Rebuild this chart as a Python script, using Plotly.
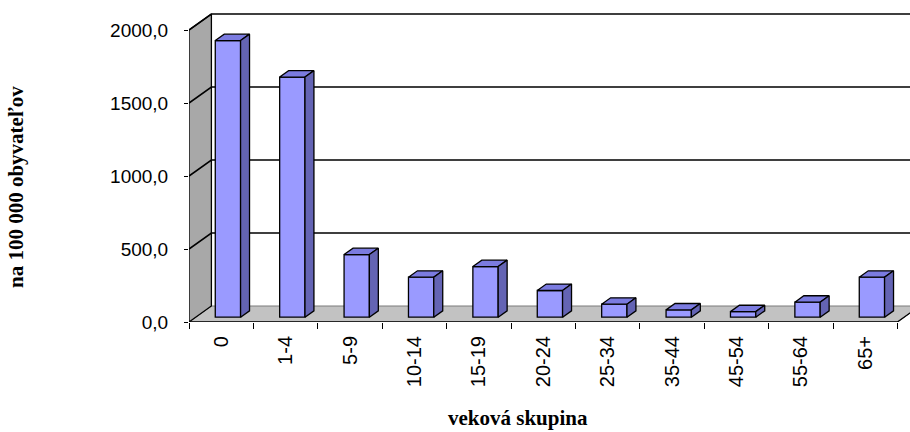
import plotly.graph_objects as go

# ---- data ----
categories = ["0", "1-4", "5-9", "10-14", "15-19", "20-24", "25-34", "35-44", "45-54", "55-64", "65+"]
values = [1895, 1645, 429, 274, 347, 183, 89, 50, 38, 103, 274]
y_ticks = [0, 500, 1000, 1500, 2000]
y_title = "na 100 000 obyvateľov"
x_title = "veková skupina"

# ---- 3D projection settings (pixel geometry) ----
PX_X = 64.4      # px per category
PX_Y = 0.146     # px per value unit
DX = 22.4 / PX_X  # full depth offset (x units)
DY = 16.0 / PX_Y  # full depth offset (value units)
D1, D2 = 0.30, 0.70  # bar front/back depth fractions
BW = 25.3 / PX_X     # bar width

n = len(categories)
x0 = -0.5
x1 = n - 0.5
ymax_wall = y_ticks[-1]

W, H = 910, 432
ML, MR, MT, MB = 189, 0, 8, 110
plot_w = W - ML - MR
plot_h = H - MT - MB
xr = [x0, x0 + plot_w / PX_X]
yr = [0, plot_h / PX_Y]

fig = go.Figure()

# floor
fig.add_trace(go.Scatter(
    x=[x0, x1, x1 + DX, x0 + DX, x0], y=[0, 0, DY, DY, 0],
    fill="toself", fillcolor="#c2c2c2", mode="lines",
    line=dict(color="#7a7a7a", width=1), hoverinfo="skip", showlegend=False))
# front edge of floor (black)
fig.add_trace(go.Scatter(
    x=[x0, x1, x1 + DX], y=[0, 0, DY], mode="lines",
    line=dict(color="black", width=1.3), hoverinfo="skip", showlegend=False))
# left wall
fig.add_trace(go.Scatter(
    x=[x0, x0, x0 + DX, x0 + DX, x0], y=[0, ymax_wall, ymax_wall + DY, DY, 0],
    fill="toself", fillcolor="#a8a8a8", mode="lines",
    line=dict(color="black", width=1.3), hoverinfo="skip", showlegend=False))

# gridlines on left wall + back wall
gx, gy = [], []
for v in y_ticks[1:]:
    gx += [x0, x0 + DX, x1 + DX, None]
    gy += [v, v + DY, v + DY, None]
fig.add_trace(go.Scatter(x=gx, y=gy, mode="lines",
                         line=dict(color="black", width=1.6),
                         hoverinfo="skip", showlegend=False))

# bars: front faces (on overlaying axis so they sit above floor/walls)
fig.add_trace(go.Bar(
    x=[i + D1 * DX for i in range(n)], y=values, base=[D1 * DY] * n,
    width=BW, marker=dict(color="#9a9aff", line=dict(color="black", width=1.3)),
    hoverinfo="skip", showlegend=False, xaxis="x2"))

# bars: top and side faces
dd_x = (D2 - D1) * DX
dd_y = (D2 - D1) * DY
tx, ty, sx, sy = [], [], [], []
for i, v in enumerate(values):
    xl = i - BW / 2 + D1 * DX
    xrr = i + BW / 2 + D1 * DX
    b = D1 * DY
    t = v + D1 * DY
    tx += [xl, xrr, xrr + dd_x, xl + dd_x, xl, None]
    ty += [t, t, t + dd_y, t + dd_y, t, None]
    sx += [xrr, xrr, xrr + dd_x, xrr + dd_x, xrr, None]
    sy += [b, t, t + dd_y, b + dd_y, b, None]
fig.add_trace(go.Scatter(x=tx, y=ty, fill="toself", fillcolor="#7b7be0", mode="lines",
                         line=dict(color="black", width=1.3), hoverinfo="skip", showlegend=False,
                         xaxis="x2"))
fig.add_trace(go.Scatter(x=sx, y=sy, fill="toself", fillcolor="#6464b4", mode="lines",
                         line=dict(color="black", width=1.3), hoverinfo="skip", showlegend=False,
                         xaxis="x2"))

xtick_font = dict(family="Liberation Sans, Arial", size=20, color="black")
ytick_font = dict(family="Liberation Sans, Arial", size=19, color="black")
title_font = dict(family="Liberation Serif, Times New Roman", size=21, color="black")

fig.update_layout(
    width=W, height=H,
    margin=dict(l=ML, r=MR, t=MT, b=MB),
    plot_bgcolor="white", paper_bgcolor="white",
    showlegend=False,
    xaxis=dict(range=xr, tickmode="array", tickvals=list(range(n)), ticktext=categories,
               ticks="", tickangle=-90, showgrid=False, zeroline=False, showline=False,
               tickfont=xtick_font, ticklabelstandoff=9, fixedrange=True),
    xaxis2=dict(range=xr, overlaying="x", anchor="y", side="bottom", tickmode="array",
                tickvals=[i - 0.5 for i in range(n + 1)], ticks="outside", ticklen=6,
                tickcolor="black", tickwidth=1.3, showticklabels=False, showgrid=False,
                zeroline=False, showline=False),
    yaxis=dict(range=yr, tickmode="array", tickvals=y_ticks,
               ticktext=[f"{v:.1f}".replace(".", ",") for v in y_ticks],
               ticks="outside", ticklen=4, tickcolor="black", tickwidth=1.3,
               showgrid=False, zeroline=False, showline=False,
               tickfont=ytick_font, ticklabelstandoff=12),
    annotations=[
        dict(text=f"<b>{y_title}</b>", xref="paper", yref="paper",
             x=(16 - ML) / plot_w, y=(H - MB - 187) / plot_h, textangle=-90,
             showarrow=False, xanchor="center", yanchor="middle", font=title_font),
        dict(text=f"<b>{x_title}</b>", xref="paper", yref="paper",
             x=(518 - ML) / plot_w, y=(H - MB - 418) / plot_h,
             showarrow=False, xanchor="center", yanchor="middle", font=title_font),
    ],
)

fig.write_html("out.html", config={"displayModeBar": False},
               post_script="document.body.style.margin='0';document.body.style.padding='0';")
